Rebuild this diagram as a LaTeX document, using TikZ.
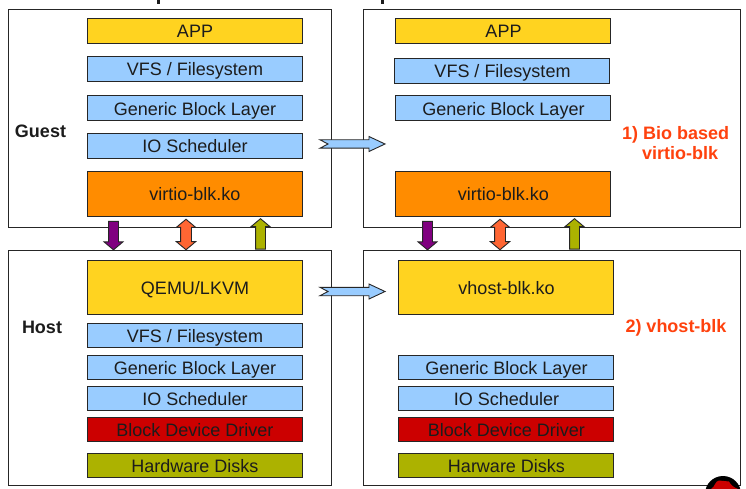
\documentclass[tikz,border=0pt]{standalone}
\usepackage{fontspec}
\setmainfont{Liberation Sans}
\usetikzlibrary{shapes.arrows}
\definecolor{appyellow}{HTML}{FFD320}
\definecolor{layerblue}{HTML}{99CCFF}
\definecolor{koorange}{HTML}{FF8C00}
\definecolor{driverred}{HTML}{CC0000}
\definecolor{diskolive}{HTML}{ACB200}
\definecolor{kickpurple}{HTML}{800080}
\definecolor{dataorange}{HTML}{FF6633}
\definecolor{notered}{HTML}{FF420E}
\definecolor{inkgray}{HTML}{1C1C1C}
\tikzset{
  frame/.style={draw=black!85,line width=0.9pt,fill=white},
  layer/.style={draw=black!85,line width=1pt,minimum width=215pt,inner sep=0pt,outer sep=0pt,
    text=inkgray,text height=14pt,text depth=0pt,font=\fontsize{18}{20}\selectfont},
  side/.style={inner sep=0pt,text=inkgray,font=\fontsize{18}{21}\selectfont\bfseries},
  note/.style={inner sep=0pt,text=notered,font=\fontsize{18}{20.5}\selectfont\bfseries},
  upfat/.style={single arrow,shape border rotate=90,draw=black!85,line width=0.9pt,inner sep=0pt,inner xsep=4.5pt,
    minimum width=18pt,minimum height=30.5pt,single arrow head extend=4.5pt,single arrow tip angle=100},
  downfat/.style={upfat,shape border rotate=270,minimum height=28.5pt},
  bothfat/.style={double arrow,shape border rotate=90,draw=black!85,line width=0.9pt,inner sep=0pt,inner xsep=5pt,
    minimum width=18pt,minimum height=30.5pt,double arrow head extend=4.25pt,double arrow tip angle=100},
  movearrow/.pic={
    \draw[draw=black!85,line width=0.9pt,fill=layerblue] (0,-4.2) -- (49,-4.2) -- (49,-7.5) -- (65,0)
      -- (49,7.5) -- (49,4.2) -- (0,4.2) -- (8,0) -- cycle;
  }
}
\begin{document}
\begin{tikzpicture}[x=1pt,y=-1pt]
  \useasboundingbox (0,0) rectangle (746,489);
  % cut off title
  \fill[inkgray] (156.5,0) rectangle (159.5,4);
  \fill[inkgray] (380.5,0) rectangle (383.5,4);
  % frames
  \node[frame,minimum width=323pt,minimum height=218pt] (guestA) at (169.5,118) {};
  \node[frame,minimum width=323pt,minimum height=235pt] (hostA) at (169.5,367.5) {};
  \node[frame,minimum width=377pt,minimum height=218pt] (guestB) at (551.5,118) {};
  \node[frame,minimum width=377pt,minimum height=235pt] (hostB) at (551.5,367.5) {};
  % logo
  \begin{scope}
    \clip (690,465) rectangle (746,489);
    \fill[black] (723,494) circle(18);
    \fill[driverred] (711,489) .. controls (715,487) and (715,481) .. (719,480.5)
      -- (729,481.5) .. controls (731,485) and (733,487) .. (738,489) -- cycle;
  \end{scope}
  % guest of the first setup
  \node[side] (guestlabel) at (40.5,131) {Guest};
  \node[layer,fill=appyellow,minimum height=25pt] (appA) at (194.5,30.8) {\hspace{1pt}APP};
  \node[layer,fill=layerblue,minimum height=25pt] (vfsA) at (194.5,68.6) {\hspace{1pt}VFS / Filesystem};
  \node[layer,fill=layerblue,minimum height=25pt] (blockA) at (194.5,108.5) {\hspace{1pt}Generic Block Layer};
  \node[layer,fill=layerblue,minimum height=25pt] (schedA) at (194.5,146) {\hspace{1pt}IO Scheduler};
  \node[layer,fill=koorange,minimum height=45pt] (virtioA) at (194.5,193.8) {\hspace{1pt}virtio-blk.ko};
  % guest of the second setup
  \node[layer,fill=appyellow,minimum height=25pt] (appB) at (503,30.8) {\hspace{1pt}APP};
  \node[layer,fill=layerblue,minimum height=25pt] (vfsB) at (502,70.6) {\hspace{1pt}VFS / Filesystem};
  \node[layer,fill=layerblue,minimum height=25pt] (blockB) at (503,108.5) {\hspace{1pt}Generic Block Layer};
  \node[layer,fill=koorange,minimum height=45pt] (virtioB) at (503,193.8) {\hspace{1pt}virtio-blk.ko};
  \node[note,align=left,anchor=west] (notebio) at (622,143) {1) Bio based\\\hspace*{20pt}virtio-blk};
  % host of the first setup
  \node[side] (hostlabel) at (42,327) {Host};
  \node[layer,fill=appyellow,minimum height=54pt] (qemuA) at (194.5,287) {\hspace{1pt}QEMU/LKVM};
  \node[layer,fill=layerblue,minimum height=24pt] (hvfsA) at (194.5,335) {\hspace{1pt}VFS / Filesystem};
  \node[layer,fill=layerblue,minimum height=24pt] (hblockA) at (194.5,367.7) {\hspace{1pt}Generic Block Layer};
  \node[layer,fill=layerblue,minimum height=24pt] (hschedA) at (194.5,398) {\hspace{1pt}IO Scheduler};
  \node[layer,fill=driverred,minimum height=24pt] (driverA) at (194.5,429) {\hspace{1pt}Block Device Driver};
  \node[layer,fill=diskolive,minimum height=24pt] (diskA) at (194.5,465) {\hspace{1pt}Hardware Disks};
  % host of the second setup
  \node[layer,fill=appyellow,minimum height=54pt] (vhostB) at (506,287) {\hspace{1pt}vhost-blk.ko};
  \node[layer,fill=layerblue,minimum height=24pt] (hblockB) at (506,367.7) {\hspace{1pt}Generic Block Layer};
  \node[layer,fill=layerblue,minimum height=24pt] (hschedB) at (506,398) {\hspace{1pt}IO Scheduler};
  \node[layer,fill=driverred,minimum height=24pt] (driverB) at (506,429) {\hspace{1pt}Block Device Driver};
  \node[layer,fill=diskolive,minimum height=24pt] (diskB) at (506,465) {\hspace{1pt}Harware Disks};
  \node[note] (notevhost) at (676,328) {2) vhost-blk};
  % arrows between guest and host
  \node[downfat,fill=kickpurple] (kickA) at (113.5,233.5) {};
  \node[bothfat,fill=dataorange] (dataA) at (186,234.5) {};
  \node[upfat,fill=diskolive] (irqA) at (260.5,236) {};
  \node[downfat,fill=kickpurple] (kickB) at (427.5,233.5) {};
  \node[bothfat,fill=dataorange] (dataB) at (500,234.5) {};
  \node[upfat,fill=diskolive] (irqB) at (574.5,236) {};
  % arrows to the second setup
  \coordinate (moveguest) at (320,144);
  \coordinate (movehost) at (320,291.5);
  \pic at (moveguest) {movearrow};
  \pic at (movehost) {movearrow};
\end{tikzpicture}
\end{document}
